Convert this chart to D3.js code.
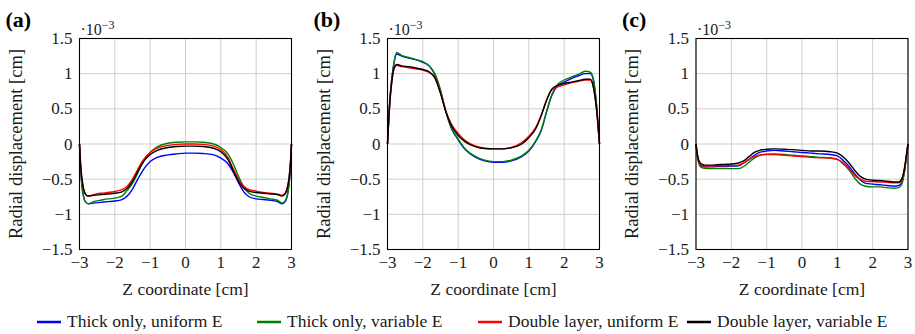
<!DOCTYPE html>
<html>
<head>
<meta charset="utf-8">
<script src="https://cdn.jsdelivr.net/npm/d3@7"></script>
<style>
    body { margin: 0; background: #fff; }
</style>
</head>
<body>
<div id="chart"></div>
<script>
// shared sample positions along Z [cm]
const zValues = [-3, -2.97, -2.93, -2.88, -2.82, -2.74, -2.6, -2.4, -2.2, -2.0, -1.8, -1.65, -1.5, -1.35, -1.2, -1.0, -0.8, -0.5, -0.25, 0,
    0.25, 0.5, 0.8, 1.0, 1.2, 1.35, 1.5, 1.65, 1.8, 2.0, 2.2, 2.4, 2.6, 2.74, 2.82, 2.88, 2.93, 2.97, 3];

const seriesNames = ["Thick only, uniform E", "Thick only, variable E", "Double layer, uniform E", "Double layer, variable E"];
const panelLabels = ["(a)", "(b)", "(c)"];
const xTicks = [-3, -2, -1, 0, 1, 2, 3];
const yTicks = [-1.5, -1, -0.5, 0, 0.5, 1, 1.5];

// radial displacement, units of 1e-3 cm
const aBlue = [0, -0.33, -0.60, -0.76, -0.83, -0.85, -0.84, -0.83, -0.82, -0.81, -0.79, -0.74, -0.64, -0.50, -0.37, -0.25, -0.19, -0.155, -0.14, -0.13,
    -0.13, -0.135, -0.155, -0.20, -0.28, -0.40, -0.55, -0.68, -0.75, -0.78, -0.79, -0.80, -0.82, -0.85, -0.82, -0.74, -0.58, -0.33, 0];
const aGreen = [0, -0.33, -0.60, -0.76, -0.83, -0.85, -0.82, -0.80, -0.78, -0.77, -0.74, -0.66, -0.56, -0.41, -0.25, -0.12, -0.04, 0.01, 0.025, 0.03,
    0.03, 0.025, 0.0, -0.05, -0.14, -0.28, -0.46, -0.61, -0.70, -0.74, -0.76, -0.78, -0.80, -0.84, -0.81, -0.73, -0.57, -0.32, 0];
const aRed = [0, -0.28, -0.50, -0.65, -0.72, -0.74, -0.72, -0.70, -0.69, -0.675, -0.65, -0.60, -0.50, -0.36, -0.23, -0.12, -0.06, -0.02, -0.005, 0,
    0, -0.005, -0.03, -0.08, -0.19, -0.35, -0.50, -0.60, -0.65, -0.67, -0.69, -0.70, -0.71, -0.73, -0.70, -0.62, -0.48, -0.27, 0];
const aBlack = [0, -0.28, -0.50, -0.65, -0.72, -0.74, -0.73, -0.72, -0.71, -0.70, -0.68, -0.63, -0.53, -0.39, -0.26, -0.15, -0.09, -0.05, -0.035, -0.03,
    -0.03, -0.035, -0.06, -0.11, -0.22, -0.38, -0.53, -0.63, -0.67, -0.69, -0.70, -0.71, -0.72, -0.74, -0.71, -0.63, -0.49, -0.27, 0];

const bBlue = [0, 0.30, 0.65, 0.92, 1.14, 1.28, 1.25, 1.22, 1.20, 1.16, 1.10, 0.97, 0.75, 0.46, 0.23, 0.06, -0.08, -0.19, -0.24, -0.26,
    -0.26, -0.24, -0.18, -0.10, 0.04, 0.19, 0.45, 0.69, 0.82, 0.88, 0.93, 0.97, 1.00, 1.00, 0.92, 0.73, 0.47, 0.21, 0];
const bGreen = [0, 0.30, 0.65, 0.92, 1.15, 1.30, 1.26, 1.23, 1.20, 1.17, 1.10, 0.99, 0.77, 0.47, 0.24, 0.07, -0.07, -0.18, -0.23, -0.25,
    -0.25, -0.23, -0.17, -0.09, 0.05, 0.20, 0.46, 0.70, 0.84, 0.91, 0.95, 0.99, 1.035, 1.02, 0.94, 0.74, 0.48, 0.21, 0];
const bRed = [0, 0.30, 0.62, 0.88, 1.06, 1.12, 1.10, 1.085, 1.07, 1.05, 1.01, 0.94, 0.73, 0.47, 0.29, 0.15, 0.05, -0.03, -0.06, -0.07,
    -0.07, -0.05, 0.02, 0.11, 0.24, 0.41, 0.62, 0.77, 0.81, 0.84, 0.87, 0.89, 0.91, 0.91, 0.82, 0.64, 0.42, 0.19, 0];
const bBlack = [0, 0.30, 0.62, 0.88, 1.07, 1.13, 1.11, 1.10, 1.08, 1.06, 1.02, 0.93, 0.72, 0.46, 0.27, 0.12, 0.03, -0.04, -0.065, -0.07,
    -0.07, -0.055, 0.0, 0.09, 0.22, 0.40, 0.62, 0.78, 0.83, 0.86, 0.88, 0.90, 0.92, 0.92, 0.83, 0.65, 0.43, 0.19, 0];

const cBlue = [0, -0.13, -0.24, -0.30, -0.32, -0.325, -0.325, -0.32, -0.32, -0.315, -0.31, -0.27, -0.22, -0.16, -0.12, -0.10, -0.09, -0.10, -0.11, -0.12,
    -0.13, -0.14, -0.15, -0.17, -0.25, -0.33, -0.43, -0.51, -0.56, -0.57, -0.58, -0.59, -0.60, -0.59, -0.55, -0.44, -0.28, -0.12, 0];
const cGreen = [0, -0.14, -0.26, -0.32, -0.34, -0.345, -0.35, -0.35, -0.35, -0.35, -0.35, -0.32, -0.26, -0.20, -0.16, -0.145, -0.14, -0.15, -0.16, -0.17,
    -0.18, -0.19, -0.20, -0.22, -0.30, -0.38, -0.49, -0.57, -0.60, -0.61, -0.61, -0.62, -0.63, -0.62, -0.58, -0.46, -0.29, -0.12, 0];
const cRed = [0, -0.13, -0.23, -0.29, -0.31, -0.315, -0.315, -0.31, -0.31, -0.305, -0.30, -0.27, -0.22, -0.18, -0.16, -0.15, -0.15, -0.16, -0.17, -0.18,
    -0.19, -0.195, -0.20, -0.22, -0.28, -0.36, -0.45, -0.50, -0.53, -0.535, -0.54, -0.545, -0.55, -0.55, -0.51, -0.40, -0.25, -0.10, 0];
const cBlack = [0, -0.12, -0.22, -0.27, -0.29, -0.30, -0.30, -0.295, -0.29, -0.285, -0.27, -0.24, -0.18, -0.12, -0.09, -0.075, -0.07, -0.075, -0.08, -0.09,
    -0.10, -0.10, -0.11, -0.13, -0.20, -0.28, -0.38, -0.46, -0.50, -0.515, -0.52, -0.53, -0.54, -0.54, -0.50, -0.40, -0.25, -0.10, 0];

const panelData = [
    [aBlue, aGreen, aRed, aBlack],
    [bBlue, bGreen, bRed, bBlack],
    [cBlue, cGreen, cRed, cBlack]
];

const colors = ['#0000ff', '#008000', '#ff0000', '#000000'];
const serif = "Liberation Serif, DejaVu Serif, serif";

class DisplacementPanel {

    constructor(svg, left, label, series) {
        this.svg = svg;
        this.left = left;
        this.label = label;
        this.series = series;
        this.initVis();
    }

    initVis() {
        const vis = this;

        vis.top = 38.5;
        vis.width = 212;
        vis.height = 211;

        vis.g = vis.svg.append("g")
            .attr("transform", `translate(${vis.left},${vis.top})`);

        vis.x = d3.scaleLinear().domain([-3, 3]).range([0, vis.width]);
        vis.y = d3.scaleLinear().domain([-1.5, 1.5]).range([vis.height, 0]);

        vis.line = d3.line()
            .x((d, i) => vis.x(zValues[i]))
            .y(d => vis.y(d))
            .curve(d3.curveMonotoneX);

        vis.updateVis();
    }

    updateVis() {
        const vis = this;

        // grid
        vis.g.append("g")
            .selectAll("line")
            .data(xTicks)
            .enter().append("line")
            .attr("x1", d => vis.x(d)).attr("x2", d => vis.x(d))
            .attr("y1", 0).attr("y2", vis.height)
            .attr("stroke", "#cfcfcf").attr("stroke-width", 1);

        vis.g.append("g")
            .selectAll("line")
            .data(yTicks)
            .enter().append("line")
            .attr("x1", 0).attr("x2", vis.width)
            .attr("y1", d => vis.y(d)).attr("y2", d => vis.y(d))
            .attr("stroke", "#cfcfcf").attr("stroke-width", 1);

        // tick labels
        const fmt = d => (d < 0 ? "\u2212" : "") + Math.abs(d);
        vis.g.append("g")
            .selectAll("text")
            .data(yTicks)
            .enter().append("text")
            .attr("x", -7)
            .attr("y", d => vis.y(d))
            .attr("dy", "0.33em")
            .style("text-anchor", "end")
            .style("font-size", "17px")
            .text(fmt);

        vis.g.append("g")
            .selectAll("text")
            .data(xTicks)
            .enter().append("text")
            .attr("x", d => vis.x(d))
            .attr("y", vis.height + 18)
            .style("text-anchor", "middle")
            .style("font-size", "17px")
            .text(fmt);

        // curves
        vis.g.selectAll(".series")
            .data(vis.series)
            .enter().append("path")
            .attr("class", "series")
            .attr("d", vis.line)
            .attr("fill", "none")
            .attr("stroke", (d, i) => colors[i])
            .attr("stroke-width", 1.4);

        // frame
        vis.g.append("rect")
            .attr("width", vis.width)
            .attr("height", vis.height)
            .attr("fill", "none")
            .attr("stroke", "#000")
            .attr("stroke-width", 1.1);

        // exponent
        const expo = vis.g.append("text")
            .attr("x", 1)
            .attr("y", -4)
            .style("font-size", "16px");
        expo.append("tspan").text("\u00b710");
        expo.append("tspan").attr("dy", -6).style("font-size", "12px").text("\u22123");

        // axis titles
        vis.g.append("text")
            .attr("transform", `translate(${-58},${vis.height / 2}) rotate(-90)`)
            .style("text-anchor", "middle")
            .style("font-size", "18.5px")
            .text("Radial displacement [cm]");

        vis.g.append("text")
            .attr("x", vis.width / 2)
            .attr("y", vis.height + 45)
            .style("text-anchor", "middle")
            .style("font-size", "17.5px")
            .text("Z coordinate [cm]");

        // panel letter
        vis.g.append("text")
            .attr("x", -74)
            .attr("y", -12)
            .style("font-size", "22px")
            .style("font-weight", "bold")
            .style("fill", "#000")
            .text(vis.label);
    }
}

const svg = d3.select("#chart").append("svg")
    .attr("width", 915)
    .attr("height", 334)
    .attr("font-family", serif)
    .style("font-family", serif)
    .attr("fill", "#1a1a1a");

const panelLefts = [79.5, 387.5, 696];
panelLabels.forEach((lab, i) => new DisplacementPanel(svg, panelLefts[i], lab, panelData[i]));

// legend
const legendX = [37, 257, 478, 687];
const legend = svg.append("g");
seriesNames.forEach((name, i) => {
    legend.append("line")
        .attr("x1", legendX[i]).attr("x2", legendX[i] + 24)
        .attr("y1", 322).attr("y2", 322)
        .attr("stroke", colors[i])
        .attr("stroke-width", 2.5);
    legend.append("text")
        .attr("x", legendX[i] + 30)
        .attr("y", 327)
        .style("font-size", "17.5px")
        .text(name);
});
</script>
</body>
</html>
